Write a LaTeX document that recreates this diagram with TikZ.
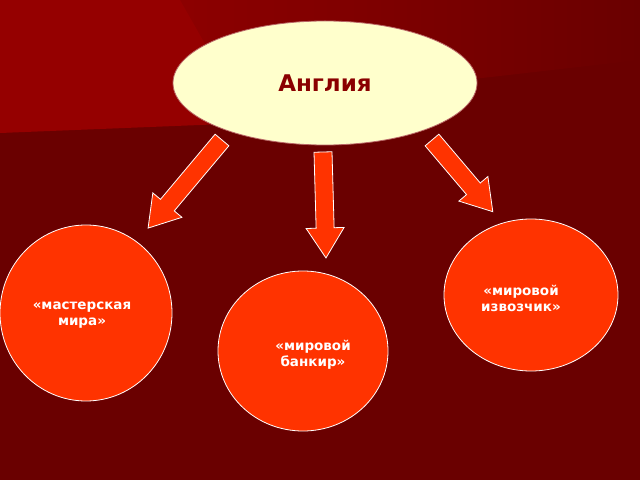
\documentclass[tikz,border=0pt]{standalone}
\usepackage{fontspec}
\setmainfont{DejaVu Sans}
\usetikzlibrary{shapes.geometric}
\definecolor{bg}{HTML}{6A0000}
\definecolor{bgl}{HTML}{9A0000}
\definecolor{circ}{HTML}{FF3300}
\definecolor{ell}{HTML}{FFFFCC}
\definecolor{title}{HTML}{8A0000}
\tikzset{
  bubble/.style={draw=white, line width=0.8pt, fill=circ, ellipse, inner sep=0pt},
  lab/.style={text=white, font=\bfseries\fontsize{13.5}{16}\selectfont, align=center},
}
\newcommand{\blockarrow}[3]{% start, angle, length
  \begin{scope}[shift={(#1)}, rotate=#2]
    \fill[circ, draw=white, line width=0.8pt] (0,-9) -- (#3-30,-9) -- (#3-30,-19) -- (#3,0) -- (#3-30,19) -- (#3-30,9) -- (0,9) -- cycle;
  \end{scope}}
\begin{document}
\begin{tikzpicture}[x=1pt,y=1pt]
\useasboundingbox (0,0) rectangle (640,480);
\fill[bg] (0,0) rectangle (640,480);
\shade[left color=bgl, right color=bg] (0,480) -- (640,480) -- (640,420) -- (0,347) -- cycle;
\fill[bgl!90!bg] (0,480) -- (180,480) -- (250,357) -- (0,347) -- cycle;
\node[draw=title!60, line width=0.8pt, fill=ell, ellipse, minimum width=304, minimum height=124] (eng) at (325,397) {};
\node[text=title, font=\bfseries\fontsize{23}{26}\selectfont] (engt) at (325,397) {Англия};
\node[bubble, minimum width=172, minimum height=176] (c1) at (86,167) {};
\node[lab] (t1) at (82,165) {«мастерская\\мира»};
\node[bubble, minimum width=170, minimum height=160] (c2) at (303,129) {};
\node[lab] (t2) at (313,125) {«мировой\\банкир»};
\node[bubble, minimum width=174, minimum height=152] (c3) at (531,185) {};
\node[lab] (t3) at (521,182) {«мировой\\извозчик»};
\coordinate (a1) at (222,340);
\coordinate (a2) at (323,328);
\coordinate (a3) at (432,340);
\blockarrow{a1}{-130}{115}
\blockarrow{a2}{-88.4}{106}
\blockarrow{a3}{-49.7}{94}
\end{tikzpicture}
\end{document}
